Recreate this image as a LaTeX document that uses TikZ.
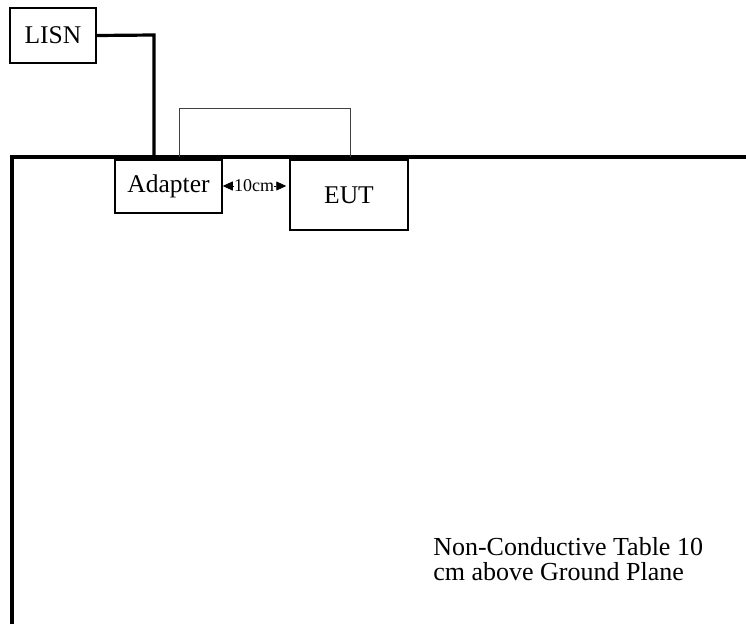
\documentclass[tikz,border=0pt]{standalone}
\usepackage{fontspec}
\setmainfont{Liberation Serif}
\usetikzlibrary{arrows.meta}

\begin{document}
\begin{tikzpicture}[x=1pt, y=-1pt, semithick,
  box/.style={draw, line width=1.5pt, inner sep=0pt, font=\fontsize{25.5}{25.5}\selectfont},
  wire/.style={line width=3.2pt},
  thin/.style={draw=black!75, line width=0.9pt},
  tip/.style={-{Triangle[length=10pt,width=9pt]}, line width=0.8pt}]

  \useasboundingbox (0,0) rectangle (746,624);

  % table edge
  \draw[wire] (12,624) -- (12,157) -- (746,157);

  \node [box, minimum width=86pt, minimum height=55pt] (lisn) at (53,35.5) {LISN};
  \node [box, minimum width=107pt, minimum height=53pt] (adapter) at (168.5,186.5) {Adapter};
  \node [box, minimum width=118pt, minimum height=70pt] (eut) at (349,195) {EUT};

  \coordinate (bend) at (154,35);
  \coordinate (drop) at (154,157);
  \draw[wire] (lisn.east) -- (bend) -- (drop);

  % cable box on the table
  \draw[thin] (179,157) -- (179,108) -- (350,108) -- (350,157);

  % 10cm spacing
  \node [inner sep=0pt, font=\fontsize{18}{18}\selectfont] (gap) at (254,186) {10cm};
  \draw[tip] (gap.west) -- (adapter.east |- gap.west);
  \draw[tip] (gap.east) -- ([xshift=-3pt]eut.west |- gap.east);

  \node [anchor=north west, align=left, inner sep=0pt, font=\fontsize{26}{25}\selectfont] (note) at (433,537)
    {Non-Conductive Table 10\\cm above Ground Plane};

\end{tikzpicture}
\end{document}
